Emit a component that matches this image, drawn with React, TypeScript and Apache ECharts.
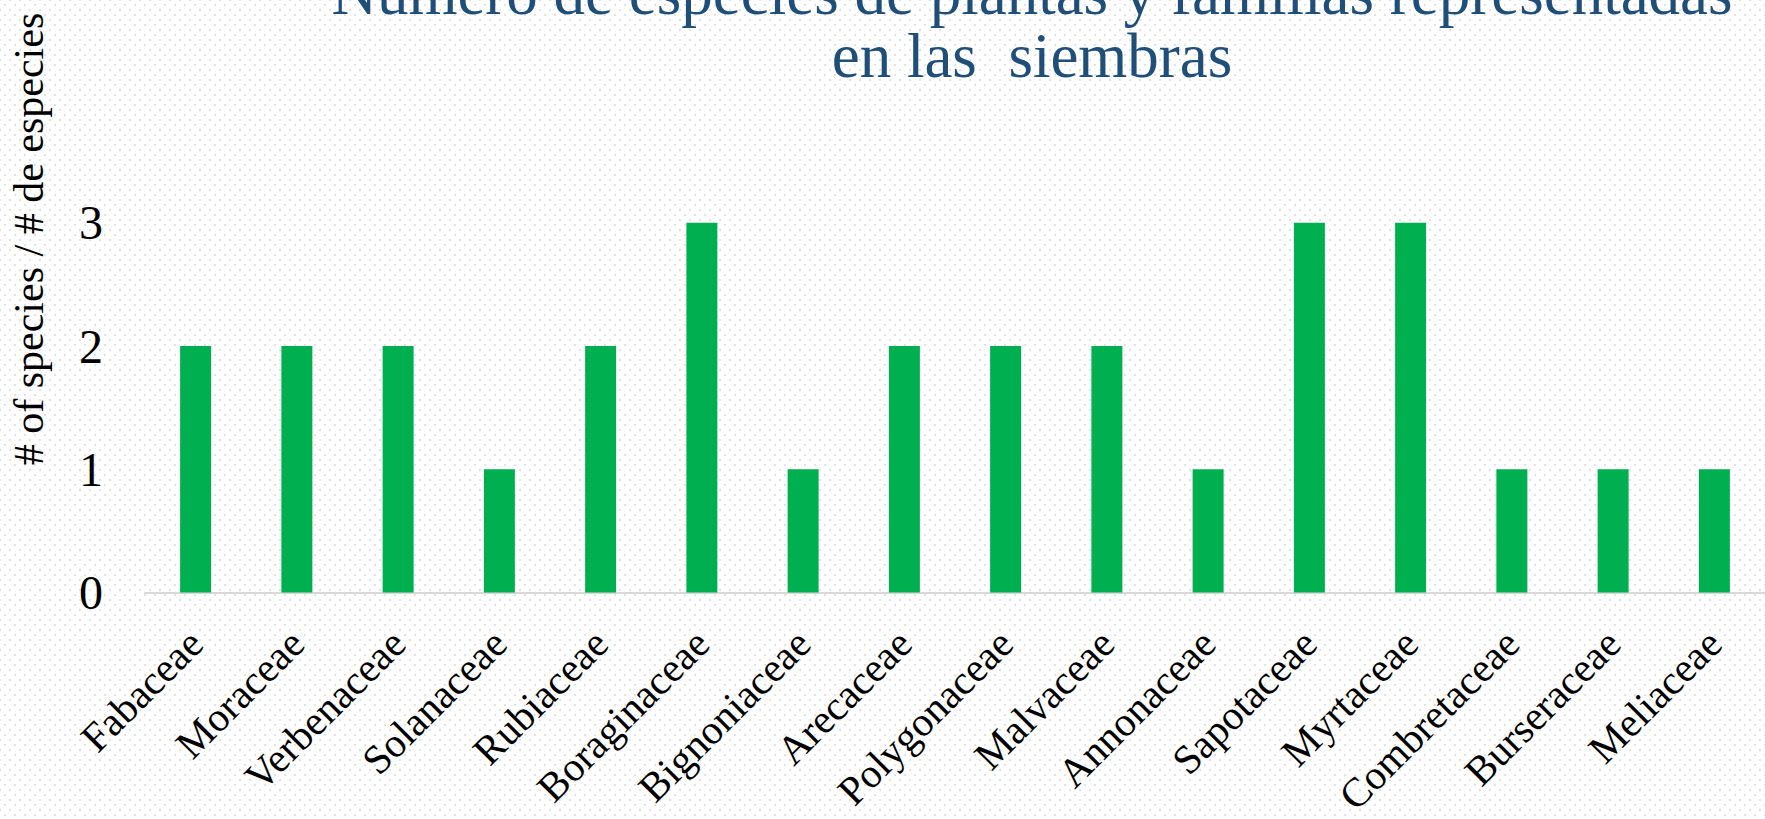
import React, { useEffect, useRef } from "react";
import * as echarts from "echarts";

const categories = [
  "Fabaceae", "Moraceae", "Verbenaceae", "Solanaceae", "Rubiaceae", "Boraginaceae",
  "Bignoniaceae", "Arecaceae", "Polygonaceae", "Malvaceae", "Annonaceae", "Sapotaceae",
  "Myrtaceae", "Combretaceae", "Burseraceae", "Meliaceae",
];
const speciesCounts = [2, 2, 2, 1, 2, 3, 1, 2, 2, 2, 1, 3, 3, 1, 1, 1];
const titleLines = ["Número de especies de plantas y familias representadas", "en las  siembras"];
const yAxisTitle = "# of species / # de especies";

const FONT = "Liberation Serif";

export default function App() {
  const ref = useRef<HTMLDivElement>(null);
  useEffect(() => {
    if (!ref.current) return;
    const chart = echarts.init(ref.current, null, { renderer: "svg" });
    chart.setOption({
      animation: false,
      backgroundColor: "transparent",
      grid: { left: 145, right: 0, top: 222.8, bottom: 222.4 },
      xAxis: {
        type: "category",
        data: categories,
        axisTick: { show: false },
        axisLine: { lineStyle: { color: "#d9d9d9", width: 2 } },
        axisLabel: {
          interval: 0,
          rotate: 45,
          fontFamily: FONT,
          fontSize: 41,
          color: "#000",
          margin: 44,
        },
      },
      yAxis: {
        type: "value",
        min: 0,
        max: 3,
        interval: 1,
        splitLine: { show: false },
        axisLine: { show: false },
        axisTick: { show: false },
        axisLabel: { fontFamily: FONT, fontSize: 48, color: "#000", margin: 42 },
      },
      series: [
        {
          type: "bar",
          data: speciesCounts,
          barWidth: 31,
          itemStyle: { color: "#00B050" },
        },
      ],
      graphic: [
        {
          type: "text",
          x: 1032,
          y: 24.5,
          style: {
            text: titleLines.join("\n"),
            fill: "#1F4E79",
            fontFamily: FONT,
            fontSize: 63,
            lineHeight: 63,
            align: "center",
            verticalAlign: "middle",
          },
        },
        {
          type: "text",
          x: 29,
          y: 239,
          rotation: Math.PI / 2,
          style: {
            text: yAxisTitle,
            fill: "#000",
            fontFamily: FONT,
            fontSize: 42,
            align: "center",
            verticalAlign: "middle",
          },
        },
      ],
    });
    return () => chart.dispose();
  }, []);
  return (
    <div
      style={{
        position: "absolute",
        left: 0,
        top: 0,
        width: 1765,
        height: 819,
        backgroundColor: "#ffffff",
        backgroundImage:
          "radial-gradient(circle, #e2e2e2 1.1px, transparent 1.6px), radial-gradient(circle, #e2e2e2 1.1px, transparent 1.6px)",
        backgroundSize: "10px 10px, 10px 10px",
        backgroundPosition: "0 0, 5px 5px",
      }}
    >
      <div ref={ref} style={{ width: 1765, height: 819 }} />
    </div>
  );
}
